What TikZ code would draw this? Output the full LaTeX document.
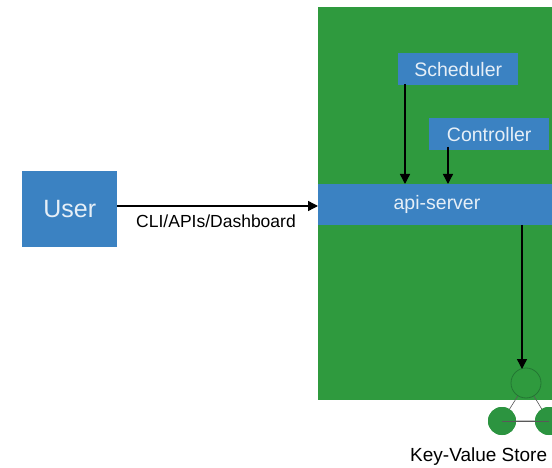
\documentclass[tikz,border=0pt]{standalone}
\usepackage{fontspec}
\setmainfont{Liberation Sans}
\usetikzlibrary{arrows.meta}
\definecolor{bggreen}{HTML}{2F9A3E}
\definecolor{boxblue}{HTML}{3B82C2}
\definecolor{txtw}{HTML}{E6EFF7}
\definecolor{kvgreen}{HTML}{2C9440}
\begin{document}
\begin{tikzpicture}[x=1pt,y=-1pt,
  bluebox/.style={fill=boxblue,draw=none,text=txtw,inner sep=0pt},
  conn/.style={draw=black,line width=1.4pt,-{Triangle[length=10pt,width=10pt]}},
  kvnode/.style={circle,fill=kvgreen,draw=none,minimum size=28pt,inner sep=0pt}]
\useasboundingbox (0,0) rectangle (552,468);
\fill[white] (0,0) rectangle (552,468);
% cluster
\node[fill=bggreen,draw=none,minimum width=236pt,minimum height=393pt,anchor=north west,inner sep=0pt] (cluster) at (318,7) {};
% user
\node[bluebox,minimum width=95pt,minimum height=76pt,anchor=north west,font=\fontsize{25}{28}\selectfont] (user) at (22,171) {User};
% api-server
\node[bluebox,minimum width=236pt,minimum height=41pt,anchor=north west] (api) at (318,184) {};
\node[text=txtw,font=\fontsize{19.5}{22}\selectfont,inner sep=0pt] (apit) at (437,204.5) {api-server};
% scheduler
\node[bluebox,minimum width=120pt,minimum height=32pt,anchor=north west,font=\fontsize{19.5}{22}\selectfont] (sched) at (398,53) {Scheduler};
\node[bluebox,minimum width=120pt,minimum height=32pt,anchor=north west,font=\fontsize{19.5}{22}\selectfont] (ctrl) at (429,118) {Controller};
% KV store
\coordinate (kvtop) at (526,383);
\node[kvnode] (kvl) at (502,421) {};
\node[kvnode] (kvr) at (549,421) {};
\draw[gray!70!black,line width=0.6pt] (kvtop) -- (kvl.center) -- (kvr.center) -- cycle;
\node[kvnode] at (kvl) {};
\node[kvnode] at (kvr) {};
\draw[gray!70!black,line width=0.6pt] (kvl.center) -- (kvr.center);
\node[circle,draw=kvgreen!80!black,line width=0.8pt,fill=bggreen,minimum size=30pt,inner sep=0pt] (kvt) at (kvtop) {};
\node[font=\fontsize{19}{22}\selectfont,anchor=west,inner sep=0pt] (kvlabel) at (410,457) {Key-Value Store};
% connectors
\coordinate (userend) at (318,206);
\draw[conn] (user.east |- userend) -- (userend);
\node[font=\fontsize{17.5}{20}\selectfont,inner sep=0pt] (cli) at (216,221) {CLI/APIs/Dashboard};
\coordinate (s1) at (405,84);
\coordinate (s2) at (405,184);
\draw[conn] (s1) -- (s2);
\coordinate (c1) at (448,147);
\coordinate (c2) at (448,184);
\draw[conn] (c1) -- (c2);
\coordinate (a1) at (522,225);
\coordinate (a2) at (522,369);
\draw[conn] (a1) -- (a2);
\end{tikzpicture}
\end{document}
